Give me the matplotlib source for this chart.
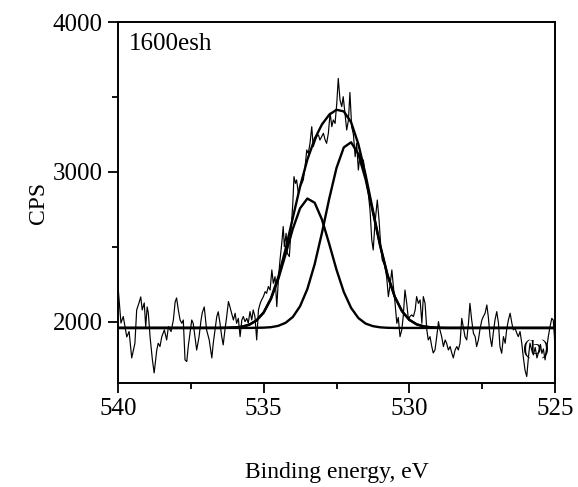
import numpy as np
import matplotlib
matplotlib.use('Agg')
import matplotlib.pyplot as plt
from matplotlib.ticker import MultipleLocator

plt.rcParams['font.family'] = ['Liberation Serif', 'DejaVu Serif']

# raw spectrum (binding energy in eV, counts per second)
raw_ev = [
    539.99, 539.90, 539.82, 539.70, 539.62, 539.53, 539.42, 539.36, 539.28, 539.22,
    539.17, 539.10, 539.05, 539.00, 538.96, 538.90, 538.82, 538.76, 538.67, 538.62,
    538.56, 538.50, 538.41, 538.33, 538.27, 538.18, 538.10, 538.04, 537.99, 537.93,
    537.87, 537.81, 537.76, 537.70, 537.64, 537.59, 537.53, 537.47, 537.42, 537.36,
    537.30, 537.22, 537.15, 537.11, 537.04, 536.96, 536.87, 536.78, 536.73, 536.67,
    536.61, 536.56, 536.50, 536.44, 536.39, 536.33, 536.27, 536.21, 536.16, 536.10,
    536.04, 535.98, 535.93, 535.87, 535.81, 535.75, 535.70, 535.64, 535.58, 535.53,
    535.47, 535.41, 535.36, 535.30, 535.24, 535.18, 535.12, 535.07, 535.01, 534.95,
    534.90, 534.84, 534.78, 534.72, 534.67, 534.61, 534.55, 534.49, 534.44, 534.38,
    534.33, 534.29, 534.23, 534.19, 534.12, 534.06, 534.00, 533.96, 533.91, 533.87,
    533.81, 533.75, 533.69, 533.64, 533.58, 533.52, 533.47, 533.41, 533.35, 533.30,
    533.24, 533.18, 533.12, 533.07, 533.01, 532.95, 532.89, 532.84, 532.78, 532.72,
    532.66, 532.61, 532.55, 532.49, 532.44, 532.38, 532.32, 532.27, 532.21, 532.15,
    532.09, 532.04, 531.98, 531.92, 531.86, 531.81, 531.75, 531.69, 531.64, 531.58,
    531.52, 531.47, 531.41, 531.35, 531.29, 531.24, 531.18, 531.10, 531.04, 530.98,
    530.93, 530.85, 530.78, 530.72, 530.66, 530.60, 530.55, 530.49, 530.43, 530.38,
    530.32, 530.26, 530.21, 530.15, 530.09, 530.03, 529.98, 529.92, 529.86, 529.80,
    529.75, 529.69, 529.63, 529.57, 529.52, 529.46, 529.40, 529.35, 529.29, 529.23,
    529.18, 529.12, 529.06, 529.00, 528.95, 528.89, 528.83, 528.77, 528.72, 528.66,
    528.60, 528.54, 528.49, 528.43, 528.37, 528.32, 528.26, 528.20, 528.15, 528.09,
    528.03, 527.97, 527.92, 527.86, 527.80, 527.74, 527.69, 527.63, 527.57, 527.51,
    527.46, 527.40, 527.34, 527.29, 527.23, 527.17, 527.12, 527.06, 527.00, 526.94,
    526.89, 526.83, 526.77, 526.71, 526.66, 526.60, 526.54, 526.48, 526.43, 526.37,
    526.31, 526.26, 526.20, 526.14, 526.09, 526.03, 525.97, 525.91, 525.86, 525.80,
    525.74, 525.68, 525.62, 525.56, 525.50, 525.45, 525.40, 525.34, 525.28, 525.23,
    525.17, 525.11, 525.06, 525.02, 525.00]
raw_cps = [
    2213, 1993, 2036, 1900, 1936, 1760, 1858, 2080, 2127, 2167,
    2080, 2127, 1969, 2100, 2060, 1900, 1747, 1660, 1813, 1858,
    1836, 1900, 1947, 1880, 1969, 1936, 2013, 2133, 2160, 2080,
    2013, 1991, 2013, 1747, 1736, 1836, 1924, 2013, 1991, 1900,
    1813, 1900, 2013, 2060, 2100, 1947, 1880, 1760, 1860, 1947,
    2036, 2068, 1991, 1902, 1847, 1947, 2036, 2136, 2102, 2058,
    2013, 2058, 1991, 2024, 1902, 2013, 2036, 2002, 2024, 1991,
    2069, 2013, 2080, 2036, 1880, 2080, 2124, 2147, 2169, 2202,
    2191, 2236, 2213, 2347, 2258, 2302, 2102, 2300, 2413, 2524,
    2636, 2502, 2591, 2458, 2436, 2613, 2791, 2969, 2924, 2947,
    2858, 2902, 2924, 2947, 3036, 3147, 3124, 3191, 3302, 3169,
    3202, 3236, 3247, 3213, 3236, 3258, 3213, 3191, 3258, 3393,
    3302, 3347, 3324, 3460, 3624, 3480, 3436, 3502, 3391, 3280,
    3347, 3530, 3302, 3250, 3102, 3191, 3013, 3124, 3040, 3080,
    2991, 2920, 2858, 2747, 2547, 2480, 2658, 2813, 2680, 2502,
    2413, 2380, 2302, 2169, 2250, 2347, 2240, 2124, 1991, 2030,
    1902, 1947, 2036, 2213, 2124, 2013, 2036, 2047, 2036, 2080,
    2169, 2124, 2147, 1991, 2169, 2124, 1947, 1880, 1902, 1836,
    1793, 1813, 1902, 2002, 1947, 1902, 1836, 1880, 1858, 1813,
    1836, 1791, 1760, 1813, 1836, 1813, 1858, 2024, 1969, 1902,
    1880, 1991, 2124, 2013, 1924, 1902, 1836, 1880, 1958, 2013,
    2036, 2058, 2113, 2036, 1902, 1836, 1924, 2013, 2069, 1991,
    1836, 1791, 1902, 1858, 1947, 2013, 2058, 1991, 1947, 1958,
    1924, 1902, 1936, 1858, 1769, 1680, 1636, 1769, 1858, 1813,
    1780, 1830, 1760, 1800, 1850, 1790, 1820, 1747, 1830, 1902,
    1969, 2024, 2013, 1902, 1813]

# fitted components
fit_ev = [540.0, 536.5, 536.25, 536.0, 535.75, 535.5, 535.25, 535.0, 534.75, 534.5,
          534.25, 534.0, 533.75, 533.5, 533.25, 533.0, 532.75, 532.5, 532.25, 532.0,
          531.75, 531.5, 531.25, 531.0, 530.75, 530.5, 530.25, 530.0, 529.75, 529.5,
          529.25, 529.0, 528.75, 525.0]
peak1 = [1960, 1960, 1961, 1963, 1968, 1981, 2009, 2062, 2153, 2285,
         2450, 2621, 2758, 2823, 2795, 2683, 2520, 2348, 2200, 2094,
         2026, 1989, 1972, 1964, 1961, 1960, 1960, 1960, 1960, 1960,
         1960, 1960, 1960, 1960]
peak2 = [1960, 1960, 1960, 1960, 1960, 1960, 1961, 1962, 1965, 1974,
         1994, 2033, 2105, 2220, 2385, 2594, 2822, 3027, 3164, 3198,
         3120, 2950, 2731, 2506, 2313, 2168, 2071, 2014, 1984, 1970,
         1964, 1961, 1960, 1960]
envelope = [1960, 1960, 1961, 1963, 1968, 1981, 2010, 2064, 2158, 2299,
            2484, 2694, 2903, 3083, 3220, 3317, 3382, 3415, 3404, 3332,
            3186, 2979, 2743, 2510, 2314, 2168, 2071, 2014, 1984, 1970,
            1964, 1961, 1960, 1960]

fig = plt.figure(figsize=(5.78, 4.87), dpi=100)
ax = fig.add_axes([0.2042, 0.2136, 0.756, 0.7412])

ax.plot(raw_ev, raw_cps, color='black', lw=0.85)
ax.plot(fit_ev, peak1, color='black', lw=1.7)
ax.plot(fit_ev, peak2, color='black', lw=1.7)
ax.plot(fit_ev, envelope, color='black', lw=1.7)

ax.set_xlim(540, 525)
ax.set_ylim(1593, 4000)
ax.set_xticks([540, 535, 530, 525])
ax.set_yticks([2000, 3000, 4000])
ax.xaxis.set_minor_locator(MultipleLocator(2.5))
ax.yaxis.set_minor_locator(MultipleLocator(500))
ax.tick_params(which='both', direction='out', top=False, right=False,
               labelsize=18, width=1.3)
ax.tick_params(which='major', length=7, pad=4)
ax.tick_params(which='minor', length=4)
for s in ax.spines.values():
    s.set_linewidth(1.4)

ax.set_xlabel('Binding energy, eV', fontsize=17, labelpad=30)
ax.set_ylabel('CPS', fontsize=17, labelpad=3)

ax.text(0.025, 0.94, '1600esh', transform=ax.transAxes, fontsize=18,
        ha='left', va='center')
ax.text(525.65, 1813, '(b)', fontsize=16, ha='center', va='center')

fig.savefig('out.png', dpi=100)
